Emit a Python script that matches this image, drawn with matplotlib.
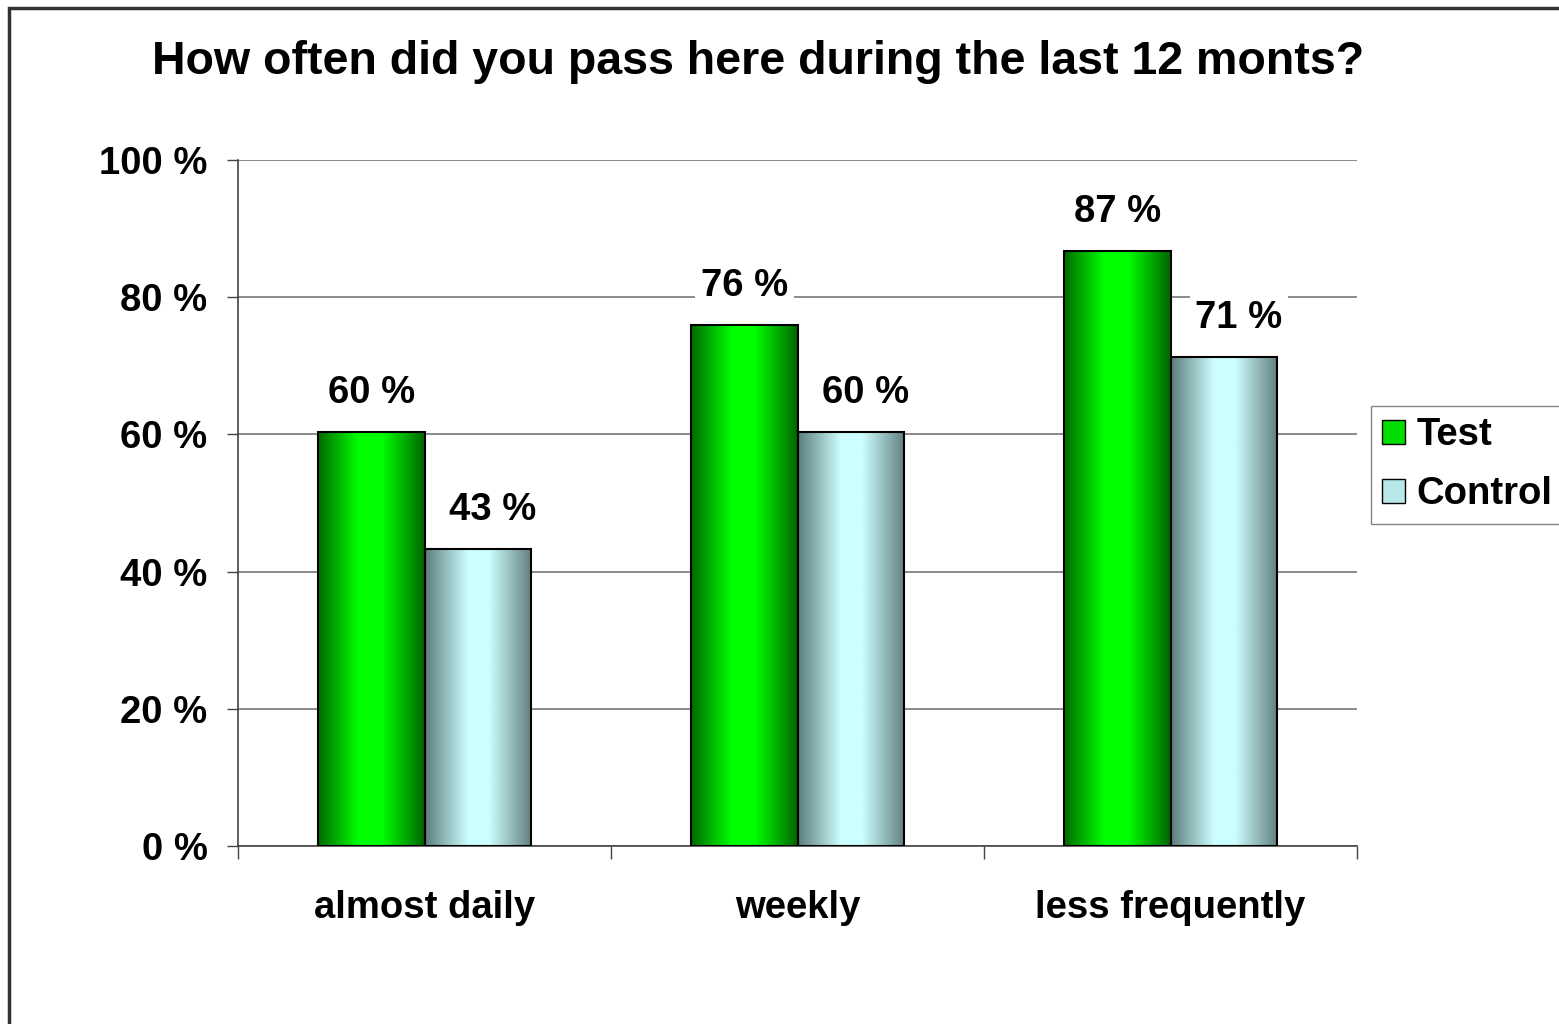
import numpy as np
import matplotlib.pyplot as plt
from matplotlib.colors import LinearSegmentedColormap
from matplotlib.patches import Rectangle

plt.rcParams['font.family'] = ['Liberation Sans', 'DejaVu Sans']
plt.rcParams['font.weight'] = 'bold'

categories = ['almost daily', 'weekly', 'less frequently']
test_vals = [60.3, 75.9, 86.7]
control_vals = [43.3, 60.3, 71.3]
series_names = ['Test', 'Control']
yticks = [0, 20, 40, 60, 80, 100]
ytick_labels = ['0 %', '20 %', '40 %', '60 %', '80 %', '100 %']

green_cmap = LinearSegmentedColormap.from_list(
    'g', [(0, '#006a00'), (0.38, '#00ff00'), (0.6, '#00ff00'), (1, '#006400')])
cyan_cmap = LinearSegmentedColormap.from_list(
    'c', [(0, '#5c7c7c'), (0.4, '#ccffff'), (0.6, '#ccffff'), (1, '#627f7f')])

fig = plt.figure(figsize=(15.59, 10.24), dpi=100)
ax = fig.add_axes([238/1559, 1 - 846/1024, (1357-238)/1559, (846-160)/1024])

x = np.arange(len(categories))
w = 0.285
grad = np.linspace(0, 1, 256).reshape(1, -1)
FS = 27.5

def draw_bars(xs, vals, cmap, dx):
    for xi, v in zip(xs, vals):
        ax.imshow(grad, cmap=cmap, aspect='auto', extent=(xi - w/2, xi + w/2, 0, v), zorder=2)
        ax.add_patch(Rectangle((xi - w/2, 0), w, v, fill=False, edgecolor='black', lw=1.5, zorder=3))
        ax.annotate(f'{v:.0f} %', (xi, v), xytext=(dx, 28), textcoords='offset points',
                    ha='center', va='center', fontsize=FS, fontweight='bold',
                    bbox=dict(boxstyle='square,pad=0.15', fc='white', ec='none'), zorder=4)

draw_bars(x - w/2, test_vals, green_cmap, 0)
draw_bars(x + w/2, control_vals, cyan_cmap, 11)

ax.set_xlim(-0.5, len(categories) - 0.5)
ax.set_ylim(0, 100)
ax.set_yticks(yticks)
ax.set_yticklabels(ytick_labels, fontsize=FS, fontweight='bold')
ax.set_xticks(np.arange(-0.5, len(categories)))
ax.set_xticklabels([])
ax.set_xticks(x, minor=True)
ax.set_xticklabels(categories, minor=True, fontsize=FS, fontweight='bold')
ax.tick_params(axis='x', which='major', length=9, width=1, color='#444444')
ax.tick_params(axis='x', which='minor', length=0, pad=32)
ax.tick_params(axis='y', length=8, width=1, color='#444444', pad=14)
ax.grid(axis='y', color='#777777', lw=1.2, zorder=0)
ax.set_axisbelow(True)
for s in ['top', 'right']:
    ax.spines[s].set_visible(False)
for s in ['left', 'bottom']:
    ax.spines[s].set_color('#444444')
    ax.spines[s].set_linewidth(1.2)

fig.text(758/1559, 1 - 62/1024, 'How often did you pass here during the last 12 monts?',
         ha='center', va='center', fontsize=33.5, fontweight='bold')

handles = [Rectangle((0, 0), 1, 1, fc='#00dd00', ec='black'),
           Rectangle((0, 0), 1, 1, fc='#b8e8e8', ec='black')]
fig.legend(handles, series_names, loc='upper left', bbox_to_anchor=(1371/1559, 1 - 406/1024),
           prop={'weight': 'bold', 'size': FS}, frameon=True, fancybox=False,
           edgecolor='#666666', handlelength=0.6, handleheight=0.6, handletextpad=0.3,
           labelspacing=0.6, borderpad=0.3, borderaxespad=0)

fig.add_artist(Rectangle((9/1559, -0.1), 2, 1.1 - 8/1024, transform=fig.transFigure,
                         fill=False, edgecolor='#333333', lw=2.5))

fig.savefig('out.png', dpi=100)
